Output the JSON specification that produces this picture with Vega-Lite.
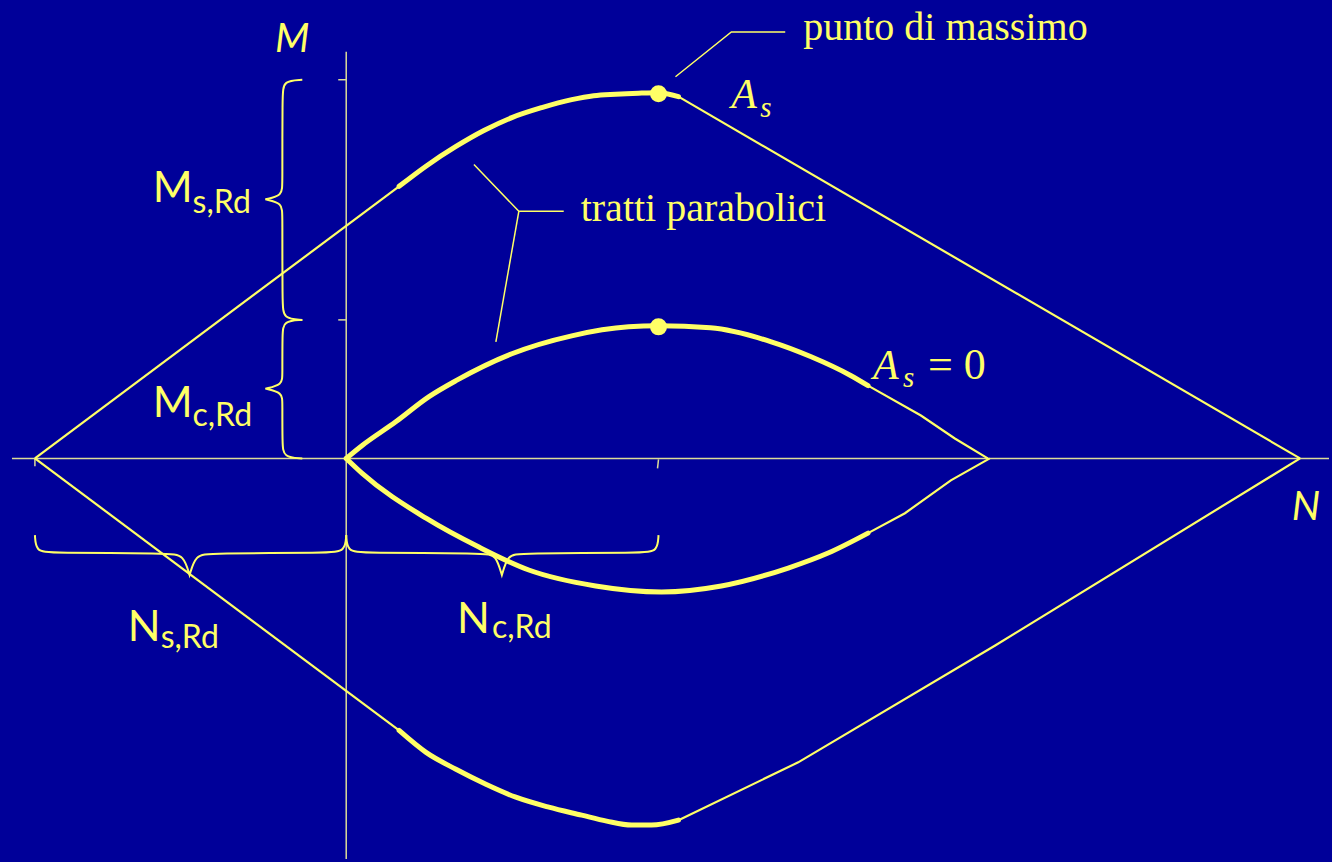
{
  "$schema": "https://vega.github.io/schema/vega-lite/v6.json",
  "autosize": {"type": "fit", "contains": "padding"},
  "width": 1332,
  "height": 862,
  "padding": 0,
  "background": "#000099",
  "config": {"view": {"stroke": null}},
  "datasets": {
    "assi": [
      {"pezzo": "N", "i": 0, "N": -335, "M": 0},
      {"pezzo": "N", "i": 1, "N": 985, "M": 0},
      {"pezzo": "M", "i": 0, "N": 0, "M": 408},
      {"pezzo": "M", "i": 1, "N": 0, "M": -402},
      {"pezzo": "tNs", "i": 0, "N": -312, "M": 0},
      {"pezzo": "tNs", "i": 1, "N": -312, "M": -8},
      {"pezzo": "tNc", "i": 0, "N": 313, "M": -1},
      {"pezzo": "tNc", "i": 1, "N": 312, "M": -10},
      {"pezzo": "tMs", "i": 0, "N": -8, "M": 380},
      {"pezzo": "tMs", "i": 1, "N": 0, "M": 380},
      {"pezzo": "tMc", "i": 0, "N": -8, "M": 139},
      {"pezzo": "tMc", "i": 1, "N": 0, "M": 139}
    ],
    "dominio": [
      {"pezzo": "As_sup_a", "tratto": "rettilineo", "N": -312, "M": 0},
      {"pezzo": "As_sup_a", "tratto": "rettilineo", "N": 53, "M": 273},
      {"pezzo": "As_sup_b", "tratto": "parabolico", "N": 53, "M": 273},
      {"pezzo": "As_sup_b", "tratto": "parabolico", "N": 81, "M": 294},
      {"pezzo": "As_sup_b", "tratto": "parabolico", "N": 110, "M": 313},
      {"pezzo": "As_sup_b", "tratto": "parabolico", "N": 138, "M": 329},
      {"pezzo": "As_sup_b", "tratto": "parabolico", "N": 166, "M": 342},
      {"pezzo": "As_sup_b", "tratto": "parabolico", "N": 196, "M": 352},
      {"pezzo": "As_sup_b", "tratto": "parabolico", "N": 226, "M": 360},
      {"pezzo": "As_sup_b", "tratto": "parabolico", "N": 248, "M": 364},
      {"pezzo": "As_sup_b", "tratto": "parabolico", "N": 270, "M": 365.5},
      {"pezzo": "As_sup_b", "tratto": "parabolico", "N": 293, "M": 366.5},
      {"pezzo": "As_sup_b", "tratto": "parabolico", "N": 313, "M": 367},
      {"pezzo": "As_sup_b", "tratto": "parabolico", "N": 333, "M": 363},
      {"pezzo": "As_sup_c", "tratto": "rettilineo", "N": 333, "M": 363},
      {"pezzo": "As_sup_c", "tratto": "rettilineo", "N": 956, "M": 0},
      {"pezzo": "As_inf_a", "tratto": "rettilineo", "N": -312, "M": 0},
      {"pezzo": "As_inf_a", "tratto": "rettilineo", "N": 53, "M": -273},
      {"pezzo": "As_inf_b", "tratto": "parabolico", "N": 53, "M": -273},
      {"pezzo": "As_inf_b", "tratto": "parabolico", "N": 80, "M": -295},
      {"pezzo": "As_inf_b", "tratto": "parabolico", "N": 110, "M": -312},
      {"pezzo": "As_inf_b", "tratto": "parabolico", "N": 140, "M": -327},
      {"pezzo": "As_inf_b", "tratto": "parabolico", "N": 170, "M": -340},
      {"pezzo": "As_inf_b", "tratto": "parabolico", "N": 203, "M": -350},
      {"pezzo": "As_inf_b", "tratto": "parabolico", "N": 236, "M": -358},
      {"pezzo": "As_inf_b", "tratto": "parabolico", "N": 261, "M": -364},
      {"pezzo": "As_inf_b", "tratto": "parabolico", "N": 286, "M": -368},
      {"pezzo": "As_inf_b", "tratto": "parabolico", "N": 306, "M": -368},
      {"pezzo": "As_inf_b", "tratto": "parabolico", "N": 333, "M": -363},
      {"pezzo": "As_inf_c", "tratto": "rettilineo", "N": 333, "M": -363},
      {"pezzo": "As_inf_c", "tratto": "rettilineo", "N": 453, "M": -305},
      {"pezzo": "As_inf_c", "tratto": "rettilineo", "N": 650, "M": -188},
      {"pezzo": "As_inf_c", "tratto": "rettilineo", "N": 956, "M": 0},
      {"pezzo": "As0_sup_b", "tratto": "parabolico", "N": 0, "M": 0},
      {"pezzo": "As0_sup_b", "tratto": "parabolico", "N": 16, "M": 13},
      {"pezzo": "As0_sup_b", "tratto": "parabolico", "N": 50, "M": 37},
      {"pezzo": "As0_sup_b", "tratto": "parabolico", "N": 83, "M": 62},
      {"pezzo": "As0_sup_b", "tratto": "parabolico", "N": 110, "M": 78},
      {"pezzo": "As0_sup_b", "tratto": "parabolico", "N": 166, "M": 105},
      {"pezzo": "As0_sup_b", "tratto": "parabolico", "N": 226, "M": 123},
      {"pezzo": "As0_sup_b", "tratto": "parabolico", "N": 283, "M": 132},
      {"pezzo": "As0_sup_b", "tratto": "parabolico", "N": 313, "M": 133},
      {"pezzo": "As0_sup_b", "tratto": "parabolico", "N": 365, "M": 131},
      {"pezzo": "As0_sup_b", "tratto": "parabolico", "N": 426, "M": 117},
      {"pezzo": "As0_sup_b", "tratto": "parabolico", "N": 466, "M": 102},
      {"pezzo": "As0_sup_b", "tratto": "parabolico", "N": 506, "M": 83},
      {"pezzo": "As0_sup_b", "tratto": "parabolico", "N": 523, "M": 73},
      {"pezzo": "As0_sup_c", "tratto": "rettilineo", "N": 523, "M": 73},
      {"pezzo": "As0_sup_c", "tratto": "rettilineo", "N": 576, "M": 43},
      {"pezzo": "As0_sup_c", "tratto": "rettilineo", "N": 610, "M": 20},
      {"pezzo": "As0_sup_c", "tratto": "rettilineo", "N": 643, "M": 0},
      {"pezzo": "As0_inf_b", "tratto": "parabolico", "N": 0, "M": 0},
      {"pezzo": "As0_inf_b", "tratto": "parabolico", "N": 16, "M": -15},
      {"pezzo": "As0_inf_b", "tratto": "parabolico", "N": 80, "M": -60},
      {"pezzo": "As0_inf_b", "tratto": "parabolico", "N": 133, "M": -89},
      {"pezzo": "As0_inf_b", "tratto": "parabolico", "N": 183, "M": -112},
      {"pezzo": "As0_inf_b", "tratto": "parabolico", "N": 250, "M": -128},
      {"pezzo": "As0_inf_b", "tratto": "parabolico", "N": 316, "M": -134},
      {"pezzo": "As0_inf_b", "tratto": "parabolico", "N": 376, "M": -128},
      {"pezzo": "As0_inf_b", "tratto": "parabolico", "N": 443, "M": -110},
      {"pezzo": "As0_inf_b", "tratto": "parabolico", "N": 483, "M": -95},
      {"pezzo": "As0_inf_b", "tratto": "parabolico", "N": 523, "M": -75},
      {"pezzo": "As0_inf_c", "tratto": "rettilineo", "N": 523, "M": -75},
      {"pezzo": "As0_inf_c", "tratto": "rettilineo", "N": 560, "M": -55},
      {"pezzo": "As0_inf_c", "tratto": "rettilineo", "N": 606, "M": -22},
      {"pezzo": "As0_inf_c", "tratto": "rettilineo", "N": 645, "M": 0}
    ],
    "massimi": [
      {"curva": "As", "N": 313, "M": 366},
      {"curva": "As0", "N": 313, "M": 132}
    ],
    "graffe": [
      {"pezzo": "Ms", "i": 0, "N": -44, "M": 380},
      {"pezzo": "Ms", "i": 1, "N": -63, "M": 379},
      {"pezzo": "Ms", "i": 2, "N": -64, "M": 365},
      {"pezzo": "Ms", "i": 3, "N": -64, "M": 275},
      {"pezzo": "Ms", "i": 4, "N": -64, "M": 264},
      {"pezzo": "Ms", "i": 5, "N": -81, "M": 260},
      {"pezzo": "Ms", "i": 6, "N": -81, "M": 260},
      {"pezzo": "Ms", "i": 7, "N": -81, "M": 260},
      {"pezzo": "Ms", "i": 8, "N": -64, "M": 256},
      {"pezzo": "Ms", "i": 9, "N": -64, "M": 245},
      {"pezzo": "Ms", "i": 10, "N": -64, "M": 155},
      {"pezzo": "Ms", "i": 11, "N": -63, "M": 140},
      {"pezzo": "Ms", "i": 12, "N": -44, "M": 139},
      {"pezzo": "Mc", "i": 0, "N": -44, "M": 139},
      {"pezzo": "Mc", "i": 1, "N": -63, "M": 138},
      {"pezzo": "Mc", "i": 2, "N": -64, "M": 125},
      {"pezzo": "Mc", "i": 3, "N": -64, "M": 84},
      {"pezzo": "Mc", "i": 4, "N": -64, "M": 74},
      {"pezzo": "Mc", "i": 5, "N": -81, "M": 70},
      {"pezzo": "Mc", "i": 6, "N": -81, "M": 70},
      {"pezzo": "Mc", "i": 7, "N": -81, "M": 70},
      {"pezzo": "Mc", "i": 8, "N": -64, "M": 66},
      {"pezzo": "Mc", "i": 9, "N": -64, "M": 56},
      {"pezzo": "Mc", "i": 10, "N": -64, "M": 15},
      {"pezzo": "Mc", "i": 11, "N": -63, "M": 1},
      {"pezzo": "Mc", "i": 12, "N": -44, "M": 0},
      {"pezzo": "Ns", "i": 0, "N": -312, "M": -77},
      {"pezzo": "Ns", "i": 1, "N": -311, "M": -93},
      {"pezzo": "Ns", "i": 2, "N": -297, "M": -95},
      {"pezzo": "Ns", "i": 3, "N": -177, "M": -95},
      {"pezzo": "Ns", "i": 4, "N": -163, "M": -97},
      {"pezzo": "Ns", "i": 5, "N": -157, "M": -117},
      {"pezzo": "Ns", "i": 6, "N": -157, "M": -117},
      {"pezzo": "Ns", "i": 7, "N": -157, "M": -117},
      {"pezzo": "Ns", "i": 8, "N": -151, "M": -97},
      {"pezzo": "Ns", "i": 9, "N": -137, "M": -95},
      {"pezzo": "Ns", "i": 10, "N": -17, "M": -95},
      {"pezzo": "Ns", "i": 11, "N": -1, "M": -93},
      {"pezzo": "Ns", "i": 12, "N": 0, "M": -77},
      {"pezzo": "Nc", "i": 0, "N": 0, "M": -77},
      {"pezzo": "Nc", "i": 1, "N": 1, "M": -93},
      {"pezzo": "Nc", "i": 2, "N": 16, "M": -95},
      {"pezzo": "Nc", "i": 3, "N": 140, "M": -95},
      {"pezzo": "Nc", "i": 4, "N": 150, "M": -97},
      {"pezzo": "Nc", "i": 5, "N": 156, "M": -117},
      {"pezzo": "Nc", "i": 6, "N": 156, "M": -117},
      {"pezzo": "Nc", "i": 7, "N": 156, "M": -117},
      {"pezzo": "Nc", "i": 8, "N": 162, "M": -97},
      {"pezzo": "Nc", "i": 9, "N": 173, "M": -95},
      {"pezzo": "Nc", "i": 10, "N": 298, "M": -95},
      {"pezzo": "Nc", "i": 11, "N": 312, "M": -93},
      {"pezzo": "Nc", "i": 12, "N": 313, "M": -77}
    ],
    "richiami": [
      {"pezzo": "massimo", "i": 0, "N": 330, "M": 383},
      {"pezzo": "massimo", "i": 1, "N": 386, "M": 428},
      {"pezzo": "massimo", "i": 2, "N": 440, "M": 428},
      {"pezzo": "parab1", "i": 0, "N": 128, "M": 295},
      {"pezzo": "parab1", "i": 1, "N": 173, "M": 248},
      {"pezzo": "parab1", "i": 2, "N": 218, "M": 248},
      {"pezzo": "parab2", "i": 0, "N": 173, "M": 248},
      {"pezzo": "parab2", "i": 1, "N": 150, "M": 117}
    ],
    "testi": [
      {"stile": "serif", "testo": "punto di massimo", "N": 458, "M": 420},
      {"stile": "serif", "testo": "tratti parabolici", "N": 235, "M": 238},
      {"stile": "serifA", "testo": "A", "N": 386, "M": 352},
      {"stile": "serifA", "testo": "A", "N": 528, "M": 80},
      {"stile": "serifPed", "testo": "s", "N": 415, "M": 343},
      {"stile": "serifPed", "testo": "s", "N": 558, "M": 72},
      {"stile": "serifUguale", "testo": "= 0", "N": 583, "M": 80},
      {"stile": "asse", "testo": "M", "N": -54, "M": 408},
      {"stile": "asse", "testo": "N", "N": 962, "M": -62},
      {"stile": "sollec", "testo": "M", "N": -194, "M": 257},
      {"stile": "sollec", "testo": "M", "N": -194, "M": 42},
      {"stile": "sollec", "testo": "N", "N": -219, "M": -183},
      {"stile": "sollec", "testo": "N", "N": 111, "M": -175},
      {"stile": "pedice", "testo": "s,Rd", "N": -154, "M": 246},
      {"stile": "pedice", "testo": "c,Rd", "N": -154, "M": 33},
      {"stile": "pedice", "testo": "s,Rd", "N": -186, "M": -190},
      {"stile": "pedice", "testo": "c,Rd", "N": 146, "M": -180}
    ]
  },
  "encoding": {
    "x": {"field": "N", "type": "quantitative", "scale": {"domain": [-347, 985], "nice": false, "zero": false}, "axis": null},
    "y": {"field": "M", "type": "quantitative", "scale": {"domain": [-402, 460], "nice": false, "zero": false}, "axis": null}
  },
  "layer": [
    {
      "data": {"name": "assi"},
      "mark": {"type": "line", "color": "#DCDC98", "strokeWidth": 1.5},
      "encoding": {"detail": {"field": "pezzo"}, "order": {"field": "i"}}
    },
    {
      "data": {"name": "graffe"},
      "mark": {"type": "line", "color": "#FFFF66", "strokeWidth": 2, "interpolate": "basis"},
      "encoding": {"detail": {"field": "pezzo"}, "order": {"field": "i"}}
    },
    {
      "data": {"name": "richiami"},
      "mark": {"type": "line", "color": "#FFFF66", "strokeWidth": 1.5},
      "encoding": {"detail": {"field": "pezzo"}, "order": {"field": "i"}}
    },
    {
      "data": {"name": "dominio"},
      "transform": [{"filter": "datum.tratto === 'rettilineo'"}],
      "mark": {"type": "line", "color": "#FFFF66", "strokeWidth": 2.2},
      "encoding": {"detail": {"field": "pezzo"}}
    },
    {
      "data": {"name": "dominio"},
      "transform": [{"filter": "datum.tratto === 'parabolico'"}],
      "mark": {"type": "line", "color": "#FFFF66", "strokeWidth": 5, "strokeCap": "round", "strokeJoin": "round", "interpolate": "monotone"},
      "encoding": {"detail": {"field": "pezzo"}}
    },
    {
      "data": {"name": "massimi"},
      "mark": {"type": "point", "filled": true, "color": "#FFFF66", "opacity": 1, "size": 290}
    },
    {
      "data": {"name": "testi"},
      "transform": [{"filter": "datum.stile === 'serif'"}],
      "mark": {"type": "text", "align": "left", "baseline": "alphabetic", "font": "Liberation Serif", "fontSize": 40, "color": "#FFFF66"},
      "encoding": {"text": {"field": "testo"}}
    },
    {
      "data": {"name": "testi"},
      "transform": [{"filter": "datum.stile === 'serifA'"}],
      "mark": {"type": "text", "align": "left", "baseline": "alphabetic", "font": "Liberation Serif", "fontStyle": "italic", "fontSize": 42, "color": "#FFFF66"},
      "encoding": {"text": {"field": "testo"}}
    },
    {
      "data": {"name": "testi"},
      "transform": [{"filter": "datum.stile === 'serifPed'"}],
      "mark": {"type": "text", "align": "left", "baseline": "alphabetic", "font": "Liberation Serif", "fontStyle": "italic", "fontSize": 29, "color": "#FFFF66"},
      "encoding": {"text": {"field": "testo"}}
    },
    {
      "data": {"name": "testi"},
      "transform": [{"filter": "datum.stile === 'serifUguale'"}],
      "mark": {"type": "text", "align": "left", "baseline": "alphabetic", "font": "Liberation Serif", "fontSize": 44, "color": "#FFFF66"},
      "encoding": {"text": {"field": "testo"}}
    },
    {
      "data": {"name": "testi"},
      "transform": [{"filter": "datum.stile === 'asse'"}],
      "mark": {"type": "text", "align": "center", "baseline": "alphabetic", "font": "Lato", "fontStyle": "italic", "fontSize": 40, "color": "#FFFF66"},
      "encoding": {"text": {"field": "testo"}}
    },
    {
      "data": {"name": "testi"},
      "transform": [{"filter": "datum.stile === 'sollec'"}],
      "mark": {"type": "text", "align": "left", "baseline": "alphabetic", "font": "Lato", "fontSize": 43, "color": "#FFFF66"},
      "encoding": {"text": {"field": "testo"}}
    },
    {
      "data": {"name": "testi"},
      "transform": [{"filter": "datum.stile === 'pedice'"}],
      "mark": {"type": "text", "align": "left", "baseline": "alphabetic", "font": "Lato", "fontSize": 32, "color": "#FFFF66"},
      "encoding": {"text": {"field": "testo"}}
    }
  ]
}
